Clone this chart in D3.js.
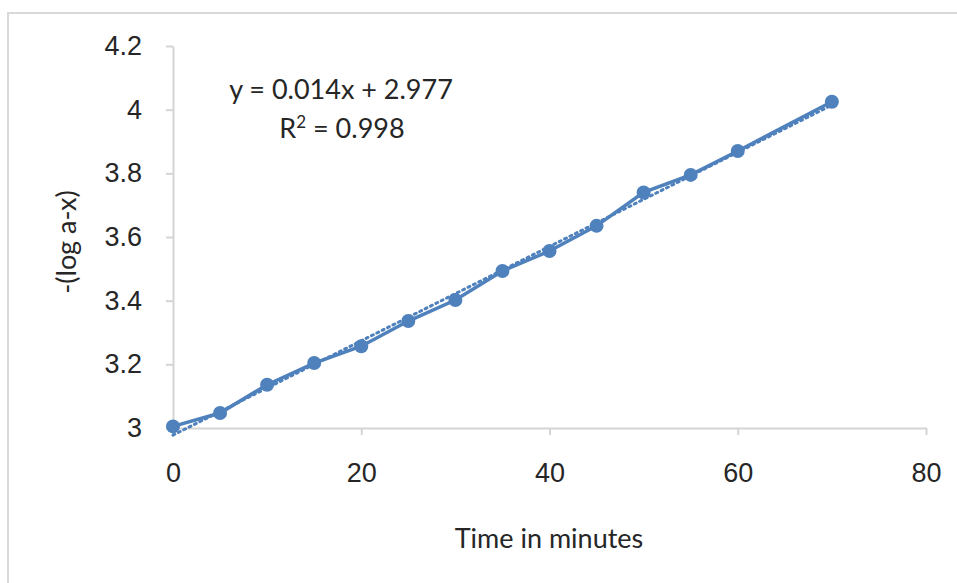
<!DOCTYPE html>
<html>
<head>
<meta charset="utf-8">
<script src="https://cdn.jsdelivr.net/npm/d3@7"></script>
<style>
  body { margin: 0; background: #fff; }
  svg { display: block; font-family: Lato, "Open Sans", sans-serif; }
  .axis path, .axis line { stroke: #d4d4d4; stroke-width: 2; }
  .axis text { fill: #262626; font-size: 27px; }
</style>
</head>
<body>
<svg width="957" height="583"></svg>
<script>
// data
var times = [0, 5, 10, 15, 20, 25, 30, 35, 40, 45, 50, 55, 60, 70];
var logValues = [3.005, 3.047, 3.136, 3.204, 3.257, 3.336, 3.402, 3.493, 3.556, 3.635, 3.740, 3.795, 3.870, 4.025];
var xTicks = [0, 20, 40, 60, 80];
var yTicks = [3, 3.2, 3.4, 3.6, 3.8, 4, 4.2];
var eqLabel = "y = 0.014x + 2.977";
var r2Label = " = 0.998";

var svg = d3.select("svg"),
  margin = { top: 46, right: 31, bottom: 155, left: 173 };

var width = 957 - margin.left - margin.right,
  height = 583 - margin.top - margin.bottom;

// outer frame
svg.append("rect")
  .attr("x", 8).attr("y", 13)
  .attr("width", 960).attr("height", 580)
  .attr("fill", "none")
  .attr("stroke", "#d9d9d9")
  .attr("stroke-width", 2);

var g = svg.append("g").attr("transform", "translate(" + margin.left + "," + margin.top + ")");

var x = d3.scaleLinear().domain([0, 80]).range([0, width]);
var y = d3.scaleLinear().domain([3, 4.2]).range([height, 0]);

var xAxis = d3.axisBottom(x).tickValues(xTicks).tickSize(7).tickSizeOuter(0).tickPadding(28);
var yAxis = d3.axisLeft(y).tickValues(yTicks).tickSize(7).tickSizeOuter(0).tickPadding(24)
  .tickFormat(function(d) { return d3.format("~g")(d); });

g.append("g")
  .attr("class", "axis axisx")
  .attr("transform", "translate(0," + height + ")")
  .call(xAxis);

g.append("g")
  .attr("class", "axis axisy")
  .call(yAxis);

// axis labels
svg.append("text")
  .attr("x", 549).attr("y", 548)
  .attr("text-anchor", "middle")
  .attr("font-size", 27)
  .attr("fill", "#262626")
  .text("Time in minutes");

svg.append("text")
  .attr("transform", "translate(76,242) rotate(-90)")
  .attr("text-anchor", "middle")
  .attr("font-size", 27)
  .attr("fill", "#262626")
  .text("-(log a-x)");

var points = times.map(function(t, i) { return { t: t, v: logValues[i] }; });

// least squares trendline, like the spreadsheet does it
var mx = d3.mean(times), my = d3.mean(logValues);
var sxy = d3.sum(points, function(d) { return (d.t - mx) * (d.v - my); });
var sxx = d3.sum(points, function(d) { return (d.t - mx) * (d.t - mx); });
var slope = sxy / sxx, intercept = my - slope * mx;

var trend = d3.extent(times).map(function(t) { return { t: t, v: slope * t + intercept }; });
var line = d3.line()
  .x(function(d) { return x(d.t); })
  .y(function(d) { return y(d.v); });

g.append("path")
  .datum(trend)
  .attr("d", line)
  .attr("fill", "none")
  .attr("stroke", "#4f81bd")
  .attr("stroke-width", 3)
  .attr("stroke-dasharray", "2,4")
  .attr("stroke-linecap", "round");

g.append("path")
  .datum(points)
  .attr("d", line)
  .attr("fill", "none")
  .attr("stroke", "#4f81bd")
  .attr("stroke-width", 3.5);

g.selectAll("circle")
  .data(points)
  .enter().append("circle")
  .attr("cx", function(d) { return x(d.t); })
  .attr("cy", function(d) { return y(d.v); })
  .attr("r", 7)
  .attr("fill", "#4f81bd");

// equation
svg.append("text")
  .attr("x", 341).attr("y", 99)
  .attr("text-anchor", "middle")
  .attr("font-size", 27)
  .attr("fill", "#262626")
  .text(eqLabel);

var r2 = svg.append("text")
  .attr("x", 342).attr("y", 138)
  .attr("text-anchor", "middle")
  .attr("font-size", 27)
  .attr("fill", "#262626");
r2.append("tspan").text("R");
r2.append("tspan").attr("dy", -10).attr("font-size", 17).text("2");
r2.append("tspan").attr("dy", 10).text(r2Label);
</script>
</body>
</html>
